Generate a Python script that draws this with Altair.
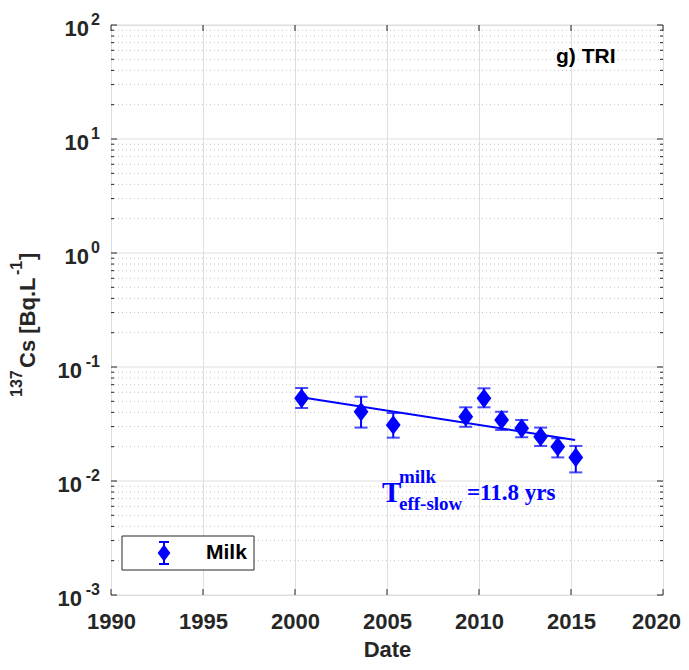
import altair as alt
import pandas as pd

# ---- data ----
years = [2000.36, 2003.59, 2005.34, 2009.28, 2010.27, 2011.23, 2012.32, 2013.35, 2014.28, 2015.26]
values = [0.0531, 0.0405, 0.0310, 0.0367, 0.0531, 0.0343, 0.0290, 0.0245, 0.0200, 0.0161]
err_lo = [0.0437, 0.0294, 0.0240, 0.0299, 0.0443, 0.0280, 0.0242, 0.0203, 0.0161, 0.0119]
err_hi = [0.0654, 0.0548, 0.0395, 0.0443, 0.0650, 0.0405, 0.0343, 0.0294, 0.0237, 0.0203]

fit_years = [2000.34, 2015.22]
fit_values = [0.0542, 0.0229]

x_ticks = [1990, 1995, 2000, 2005, 2010, 2015, 2020]
y_major = [0.001, 0.01, 0.1, 1, 10, 100]
y_exp = ["-3", "-2", "-1", "0", "1", "2"]
y_minor = [m * d for d in [0.001, 0.01, 0.1, 1, 10] for m in range(2, 10)]

W, H = 552, 570
BLUE = "#0000ff"
AX = "#262626"
SANS = "Liberation Sans"
SERIF = "Liberation Serif"

xscale = alt.Scale(domain=[1990, 2020], nice=False, zero=False)
yscale = alt.Scale(type="log", domain=[0.001, 100], nice=False)

xaxis = alt.Axis(values=x_ticks, format="d", grid=True, gridColor="#dedede", gridWidth=1,
                 domain=False, ticks=False, labelFont=SANS, labelFontWeight="bold",
                 labelFontSize=22, labelColor=AX, labelPadding=16, labelFlush=False,
                 labelOverlap=False,
                 labelOffset={"condition": {"test": "datum.value == 2020", "value": -7}, "value": 0},
                 title="Date",
                 titleFont=SANS, titleFontWeight="bold", titleFontSize=22, titleColor=AX,
                 titlePadding=7)

df = pd.DataFrame({"year": years, "value": values, "lo": err_lo, "hi": err_hi})
fit_df = pd.DataFrame({"year": fit_years, "value": fit_values})
major_df = pd.DataFrame({"v": y_major, "e": y_exp})
minor_df = pd.DataFrame({"v": y_minor})
xt_df = pd.DataFrame({"year": x_ticks})
one = alt.Data(values=[{"a": 1}])

X = alt.X("year:Q", scale=xscale, axis=xaxis)
Yv = lambda f: alt.Y(f, scale=yscale, axis=None)

# grid
minor_grid = alt.Chart(minor_df).mark_rule(color="#c4c4c4", strokeDash=[1, 3], strokeWidth=1).encode(y=Yv("v:Q"))
major_grid = alt.Chart(major_df).mark_rule(color="#dedede", strokeWidth=1).encode(y=Yv("v:Q"))
x_base = alt.Chart(xt_df).mark_rule(opacity=0).encode(x=X)

# inward ticks
tk = dict(color=AX, strokeWidth=1)
yt_major_l = alt.Chart(major_df).mark_rule(**tk).encode(y=Yv("v:Q"), x=alt.value(0), x2=alt.value(6))
yt_major_r = alt.Chart(major_df).mark_rule(**tk).encode(y=Yv("v:Q"), x=alt.value(W), x2=alt.value(W - 6))
yt_minor_l = alt.Chart(minor_df).mark_rule(**tk).encode(y=Yv("v:Q"), x=alt.value(0), x2=alt.value(3))
yt_minor_r = alt.Chart(minor_df).mark_rule(**tk).encode(y=Yv("v:Q"), x=alt.value(W), x2=alt.value(W - 3))
xt_b = alt.Chart(xt_df).mark_rule(**tk).encode(x=X, y=alt.value(H), y2=alt.value(H - 6))
xt_t = alt.Chart(xt_df).mark_rule(**tk).encode(x=X, y=alt.value(0), y2=alt.value(6))

# y tick labels with superscripts
lab_base = alt.Chart(major_df).transform_calculate(
    lx="indexof(datum.e, '-') == 0 ? -29 : -22", ex="-11", ten="'10'")
y_ten = lab_base.mark_text(font=SANS, fontWeight="bold", fontSize=22, color=AX, align="right",
                           baseline="middle", dy=4).encode(
    y=Yv("v:Q"), x=alt.X("lx:Q", scale=None), text="ten:N")
y_sup = lab_base.mark_text(font=SANS, fontWeight="bold", fontSize=16, color=AX, align="right",
                           baseline="middle", dy=-5).encode(
    y=Yv("v:Q"), x=alt.X("ex:Q", scale=None), text="e:N")

# y title pieces (rotated)
def rot(text, x, y, size):
    return alt.Chart(one).mark_text(text=text, angle=270, align="left", baseline="middle",
                                    font=SANS, fontWeight="bold", fontSize=size, color=AX
                                    ).encode(x=alt.value(x), y=alt.value(y))

yt1 = rot("137", -94, 372, 16)
yt2 = rot("Cs [Bq.L", -83, 343, 22)
yt3 = rot("-1", -94, 250, 16)
yt4 = rot("]", -83, 235, 22)

# data
bars = alt.Chart(df).mark_rule(color=BLUE, strokeWidth=2).encode(x=X, y=Yv("lo:Q"), y2="hi:Q")
cap_lo = alt.Chart(df).mark_tick(color=BLUE, orient="horizontal", size=13, thickness=2).encode(x=X, y=Yv("lo:Q"))
cap_hi = alt.Chart(df).mark_tick(color=BLUE, orient="horizontal", size=13, thickness=2).encode(x=X, y=Yv("hi:Q"))
DIAM = "M0,-1.2L0.9,0L0,1.2L-0.9,0Z"
pts = alt.Chart(df).mark_point(shape=DIAM, filled=True, color=BLUE, size=270, opacity=1).encode(x=X, y=Yv("value:Q"))
fit = alt.Chart(fit_df).mark_line(color=BLUE, strokeWidth=2).encode(x=X, y=Yv("value:Q"))

# annotation
def txt(text, x, y, size, font=SERIF, color=BLUE, align="left", baseline="alphabetic"):
    return alt.Chart(one).mark_text(text=text, font=font, fontWeight="bold", fontSize=size,
                                    color=color, align=align, baseline=baseline
                                    ).encode(x=alt.value(x), y=alt.value(y))

a1 = txt("T", 271, 477, 29)
a2 = txt("milk", 288, 458, 19)
a3 = txt("eff-slow", 288, 485, 19)
a4 = txt("=11.8 yrs", 356, 475, 23)

panel = txt("g) TRI", 445, 32, 21, font=SANS, color="#000000", baseline="middle")

# legend
leg_box = alt.Chart(one).mark_rect(fill="white", stroke=AX, strokeWidth=1).encode(
    x=alt.value(11), x2=alt.value(143), y=alt.value(511), y2=alt.value(545))
leg_bar = alt.Chart(one).mark_rule(color=BLUE, strokeWidth=2).encode(
    x=alt.value(53), y=alt.value(517), y2=alt.value(539))
leg_c1 = alt.Chart(one).mark_rule(color=BLUE, strokeWidth=2).encode(
    x=alt.value(48), x2=alt.value(58), y=alt.value(517))
leg_c2 = alt.Chart(one).mark_rule(color=BLUE, strokeWidth=2).encode(
    x=alt.value(48), x2=alt.value(58), y=alt.value(539))
leg_pt = alt.Chart(one).mark_point(shape=DIAM, filled=True, color=BLUE, size=200, opacity=1).encode(
    x=alt.value(53), y=alt.value(528))
leg_tx = txt("Milk", 95, 528, 21, font=SANS, color="#000000", baseline="middle")

chart = alt.layer(
    minor_grid, major_grid, x_base,
    yt_minor_l, yt_minor_r, yt_major_l, yt_major_r, xt_b, xt_t,
    y_ten, y_sup, yt1, yt2, yt3, yt4,
    fit, bars, cap_lo, cap_hi, pts,
    a1, a2, a3, a4, panel,
    leg_box, leg_bar, leg_c1, leg_c2, leg_pt, leg_tx,
).properties(
    width=W, height=H,
    autosize=alt.AutoSizeParams(type="none"),
    padding={"left": 103, "top": 17, "right": 18, "bottom": 67},
).configure_view(stroke=AX, strokeWidth=1).configure(background="white")

chart.save("out.html", embed_options={"renderer": "svg", "actions": False})
